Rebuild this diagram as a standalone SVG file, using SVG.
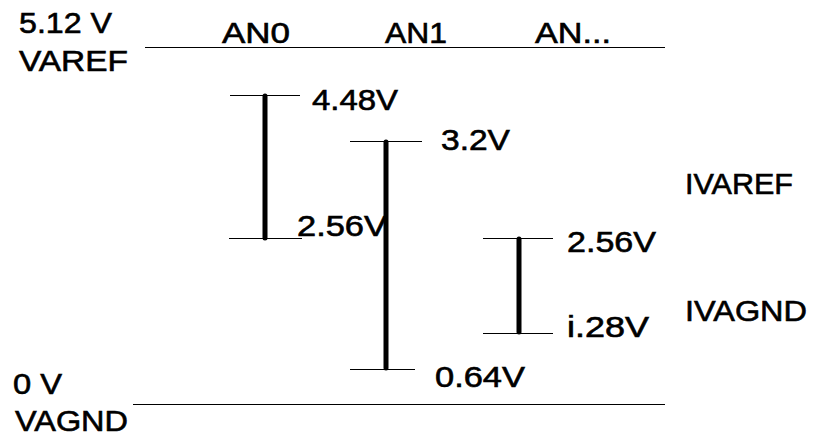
<svg xmlns="http://www.w3.org/2000/svg" width="814" height="435" viewBox="0 0 814 435">
<style>
text{font-family:"Liberation Sans",Arial,sans-serif;font-size:29px;fill:#000;stroke:#000;stroke-width:0.6}
.thin{stroke:#000;stroke-width:1}
.bar{stroke:#000;stroke-width:5;stroke-linecap:round}
</style>
<rect width="814" height="435" fill="#fff"/>
<g id="labels">
<text x="19" y="33" textLength="93" lengthAdjust="spacingAndGlyphs">5.12 V</text>
<text x="19" y="71" textLength="109" lengthAdjust="spacingAndGlyphs">VAREF</text>
<text x="222" y="43" textLength="68" lengthAdjust="spacingAndGlyphs">AN0</text>
<text x="385" y="43" textLength="62" lengthAdjust="spacingAndGlyphs">AN1</text>
<text x="535" y="43" textLength="76" lengthAdjust="spacingAndGlyphs">AN...</text>
<text x="685" y="194" textLength="108" lengthAdjust="spacingAndGlyphs">IVAREF</text>
<text x="685" y="321" textLength="122" lengthAdjust="spacingAndGlyphs">IVAGND</text>
<text x="13" y="394" textLength="49" lengthAdjust="spacingAndGlyphs">0 V</text>
<text x="15" y="431" textLength="113" lengthAdjust="spacingAndGlyphs">VAGND</text>
</g>
<g id="rails">
<line class="thin" x1="145" y1="47.5" x2="665" y2="47.5"/>
<line class="thin" x1="133" y1="404.5" x2="665" y2="404.5"/>
</g>
<g id="an0">
<line class="thin" x1="230" y1="95.5" x2="300" y2="95.5"/>
<line class="thin" x1="229" y1="238.5" x2="302" y2="238.5"/>
<line class="bar" x1="265" y1="96" x2="265" y2="238"/>
<text x="312" y="110" textLength="86" lengthAdjust="spacingAndGlyphs">4.48V</text>
<text x="297" y="236" textLength="90" lengthAdjust="spacingAndGlyphs">2.56V</text>
</g>
<g id="an1">
<line class="thin" x1="350" y1="141.5" x2="422" y2="141.5"/>
<line class="thin" x1="350" y1="369.5" x2="415" y2="369.5"/>
<line class="bar" x1="386" y1="142" x2="386" y2="368"/>
<text x="441" y="150" textLength="69" lengthAdjust="spacingAndGlyphs">3.2V</text>
<text x="435" y="387" textLength="90" lengthAdjust="spacingAndGlyphs">0.64V</text>
</g>
<g id="an-more">
<line class="thin" x1="483" y1="238.5" x2="553" y2="238.5"/>
<line class="thin" x1="483" y1="333.5" x2="553" y2="333.5"/>
<line class="bar" x1="519" y1="239" x2="519" y2="332"/>
<text x="567" y="252" textLength="89" lengthAdjust="spacingAndGlyphs">2.56V</text>
<text x="567" y="337" textLength="82" lengthAdjust="spacingAndGlyphs">i.28V</text>
</g>
</svg>
